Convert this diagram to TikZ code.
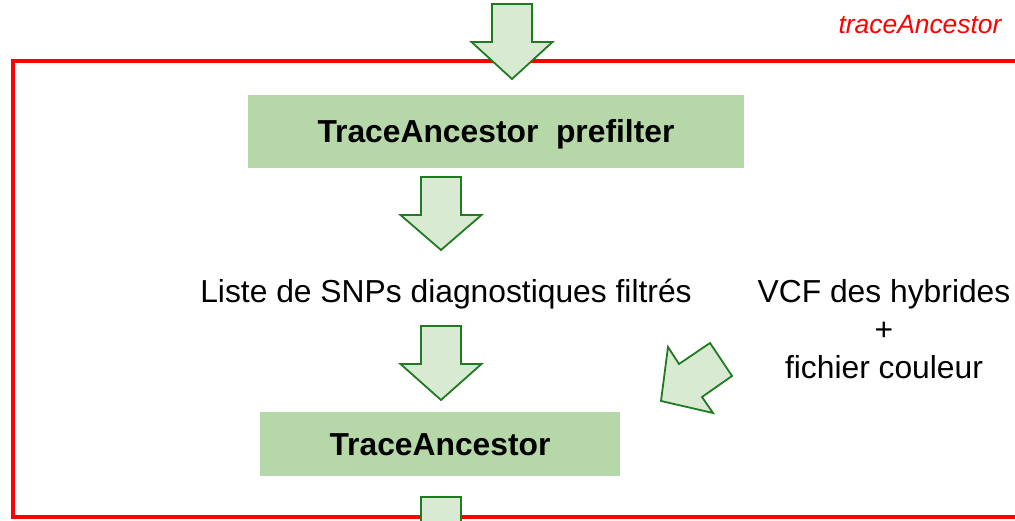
\documentclass[tikz,border=0pt]{standalone}
\usepackage{fontspec}
\setmainfont{Liberation Sans}
\definecolor{boxfill}{HTML}{B6D7A8}
\definecolor{arrfill}{HTML}{D9EAD3}
\definecolor{arrline}{HTML}{217A21}
\definecolor{framered}{HTML}{FF0000}
\tikzset{
  box/.style={fill=boxfill, draw=none, inner sep=0pt, text height=22.8pt, text depth=0pt, font=\fontsize{31.8}{38}\selectfont\bfseries},
  lbl/.style={inner sep=0pt, font=\fontsize{31.8}{38}\selectfont, align=center},
  fat/.style={fill=arrfill, draw=arrline, line width=1.8pt, line join=miter},
}
\begin{document}
\begin{tikzpicture}[x=1pt,y=-1pt]
\useasboundingbox (0,0) rectangle (1015,521);
% red frame
\draw[framered, line width=3.5pt] (1020,61) -- (13,61) -- (13,517) -- (1020,517);
\node[inner sep=0pt, text=framered, text height=18.9pt, text depth=0pt, font=\fontsize{26.4}{30}\selectfont\itshape] (title) at (920,24) {traceAncestor};
% boxes
\node[box, minimum width=496pt, minimum height=73pt] (pre) at (496,131.5) {TraceAncestor\ \ prefilter};
\node[box, minimum width=360pt, minimum height=64pt] (ta) at (440,444) {TraceAncestor};
% labels
\node[lbl, text height=22.8pt, text depth=0pt] (snp) at (446,291) {Liste de SNPs diagnostiques filtrés};
\node[lbl] (vcf) at (884,329) {VCF des hybrides\\+\\fichier couleur};
% down arrows
\newcommand{\fatdown}[3]{% x center, top, tip
  \draw[fat] (#1-20,#2) -- (#1+20,#2) -- (#1+20,#2+38) -- (#1+40.5,#2+38) -- (#1,#3) -- (#1-40.5,#2+38) -- (#1-20,#2+38) -- cycle;}
\fatdown{512}{4}{79}
\fatdown{441}{177}{250}
\fatdown{441}{326}{400}
\draw[fat] (421,497) -- (461,497) -- (461,530) -- (421,530) -- cycle;
% diagonal arrow
\draw[fat] (661,401) -- (668,347) -- (679,364) -- (710,343) -- (732,376) -- (702,397) -- (713,413) -- cycle;
\end{tikzpicture}
\end{document}
